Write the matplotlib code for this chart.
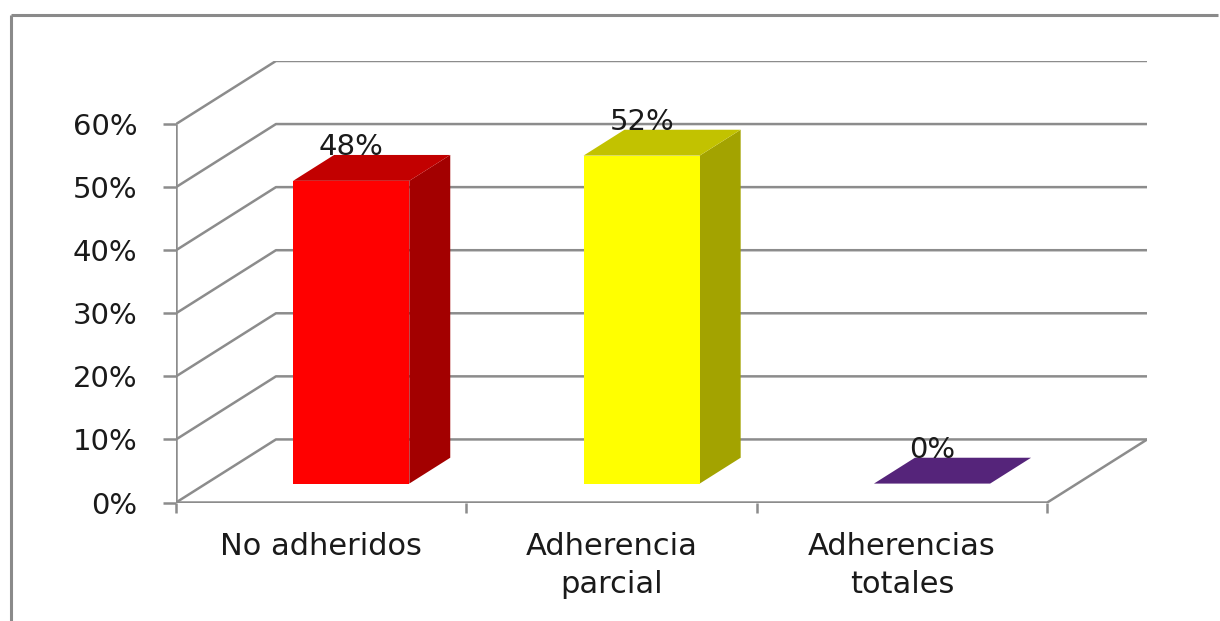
"""
Excel style 3D column chart: adherencia
"""
import matplotlib
matplotlib.use("Agg")
import matplotlib.pyplot as plt
from matplotlib.colors import to_rgb
from matplotlib.lines import Line2D
from matplotlib.patches import Polygon

categories = ["No adheridos", "Adherencia\nparcial", "Adherencias\ntotales"]
values = [0.48, 0.52, 0.0]
value_labels = ["48%", "52%", "0%"]
fills = ["#ff0000", "#ffff00", "#7030a0"]
ticks = [0, 0.1, 0.2, 0.3, 0.4, 0.5, 0.6]
tick_labels = ["0%", "10%", "20%", "30%", "40%", "50%", "60%"]

# depth of the box (data units), and where a column sits inside it
DX, DY = 0.344, 0.1
F1, F2 = 0.30, 0.71
W = 0.40
GRAY = "#8c8c8c"
TXT = "#1a1a1a"


def shade(color, k):
    r, g, b = to_rgb(color)
    return (r * k, g * k, b * k)


def walls(ax, n):
    line = dict(color=GRAY, lw=1.8, solid_capstyle="butt", zorder=1)
    for t in ticks:
        ax.plot([0, DX, n + DX], [t, t + DY, t + DY], **line)
    ax.plot([0, n, n + DX], [0, 0, DY], **line)
    ax.plot([0, 0], [0, ticks[-1]], **line)


def column(ax, x, v, color):
    x0, x1 = x - W / 2, x + W / 2

    def p(xx, d, yy):
        return (xx + d * DX, yy + d * DY)

    front = [p(x0, F1, 0), p(x1, F1, 0), p(x1, F1, v), p(x0, F1, v)]
    top = [p(x0, F1, v), p(x1, F1, v), p(x1, F2, v), p(x0, F2, v)]
    side = [p(x1, F1, 0), p(x1, F2, 0), p(x1, F2, v), p(x1, F1, v)]
    ax.add_patch(Polygon(side, closed=True, fc=shade(color, 0.64), lw=0, zorder=3))
    ax.add_patch(Polygon(front, closed=True, fc=color, lw=0, zorder=3))
    ax.add_patch(Polygon(top, closed=True, fc=shade(color, 0.76), lw=0, zorder=4))


def main():
    n = len(categories)
    fig = plt.figure(figsize=(12.2, 6.21), dpi=100)
    ax = fig.add_axes([0.1443, 0.1908, 0.9403 - 0.1443, 0.9018 - 0.1908])
    ax.set_xlim(0, n + DX)
    ax.set_ylim(0, 0.7)
    for s in ax.spines.values():
        s.set_visible(False)

    walls(ax, n)
    for i, v in enumerate(values):
        column(ax, i + 0.5, v, fills[i])
        ax.text(i + 0.5 + F1 * DX, v + F2 * DY, value_labels[i], ha="center",
                va="baseline", fontsize=21, color=TXT, zorder=5)

    ax.set_yticks(ticks, tick_labels)
    ax.tick_params(axis="y", length=9.4, width=1.8, color=GRAY, pad=18.5,
                   labelsize=21, labelcolor=TXT)

    ax.set_xticks(range(n + 1), [""] * (n + 1))
    ax.set_xticks([i + 0.5 for i in range(n)], categories, minor=True)
    ax.tick_params(axis="x", which="major", length=7, width=1.8, color=GRAY)
    ax.tick_params(axis="x", which="minor", length=0, pad=21,
                   labelsize=22, labelcolor=TXT)
    for lab in ax.get_xticklabels(minor=True):
        lab.set_linespacing(1.4)

    # chart area frame
    bx, by = 11 / 1220, 1 - 14.7 / 621
    fig.add_artist(Line2D([bx, 1218 / 1220], [by, by], transform=fig.transFigure,
                          color="#8a8a8a", lw=2.2, solid_capstyle="butt"))
    fig.add_artist(Line2D([bx, bx], [0.0, by], transform=fig.transFigure,
                          color="#8a8a8a", lw=2.2, solid_capstyle="butt"))

    fig.savefig("out.png", dpi=100)


if __name__ == "__main__":
    main()
